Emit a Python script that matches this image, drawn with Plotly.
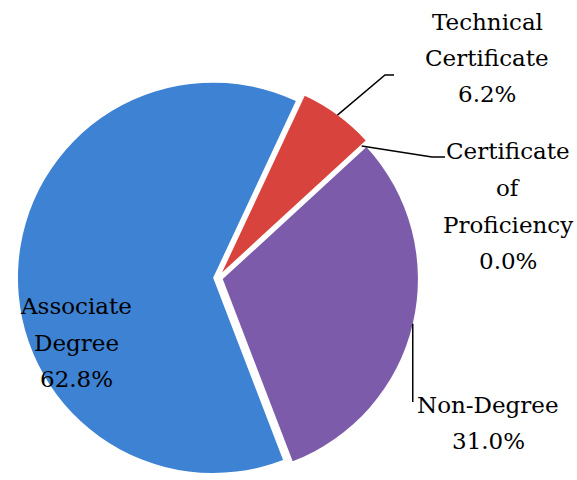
import math
import plotly.graph_objects as go

# data
labels = ["Associate Degree", "Technical Certificate", "Certificate of Proficiency", "Non-Degree"]
values = [62.8, 6.2, 0.0, 31.0]
label_lines = [["Associate", "Degree"], ["Technical", "Certificate"],
               ["Certificate", "of", "Proficiency"], ["Non-Degree"]]
colors = ["#3E82D3", "#D8433D", "#9BBB59", "#7C5BAA"]
pulls = [0.025, 0.035, 0.0, 0.025]

W, H = 577, 480
FONT = "DejaVu Serif"
rotation = 159

# pie placement (pixels)
cx, cy = 218, 278
maxpull = max(pulls)
half = 480 - cy
r = half / (1 + maxpull)

fig = go.Figure(go.Pie(
    labels=labels, values=values, sort=False, direction="clockwise",
    rotation=rotation, pull=pulls, textinfo="none", hoverinfo="label+percent",
    marker=dict(colors=colors, line=dict(color="white", width=0)),
    domain=dict(x=[(cx - half) / W, (cx + half) / W], y=[0, 2 * half / H]),
    showlegend=False,
))

def px(x, y):
    return x / W, 1 - y / H

# slice angles -> leader start points on the arc
total = sum(values)
starts = []
acc = rotation
for v, p in zip(values, pulls):
    span = v / total * 360
    mid = math.radians(acc + span / 2)
    ox, oy = cx + p * r * math.sin(mid), cy - p * r * math.cos(mid)
    starts.append((ox + r * math.sin(mid), oy - r * math.cos(mid)))
    acc += span

# label text positions (pixel centres of each line)
label_pos = [(76, [306, 343, 379]), (487, [22, 58, 94]),
             (508, [151, 188, 225, 261]), (488, [405, 441])]

annotations = []
for lines, v, (x0, ys) in zip(label_lines, values, label_pos):
    for txt, yy in zip(lines + [f"{v:.1f}%"], ys):
        ax_, ay_ = px(x0, yy)
        annotations.append(dict(x=ax_, y=ay_, xref="paper", yref="paper", text=txt,
                                showarrow=False, xanchor="center", yanchor="middle",
                                font=dict(family=FONT, size=23, color="black")))

# leader lines
shapes = []
def leader(points):
    path = "M " + " L ".join(f"{px(x, y)[0]},{px(x, y)[1]}" for x, y in points)
    shapes.append(dict(type="path", path=path, xref="paper", yref="paper",
                       line=dict(color="black", width=1.5)))

sx, sy = starts[1]
leader([(sx, sy), (385, 75), (394, 75)])
sx, sy = starts[2]
leader([(sx, sy), (432, 157), (445, 157)])
sx, sy = starts[3]
leader([(sx, sy), (sx, 402)])

fig.update_layout(width=W, height=H, margin=dict(l=0, r=0, t=0, b=0),
                  paper_bgcolor="white", plot_bgcolor="white",
                  annotations=annotations, shapes=shapes)

fig.write_html("out.html", config={"displayModeBar": False},
               post_script="document.body.style.margin='0';")
